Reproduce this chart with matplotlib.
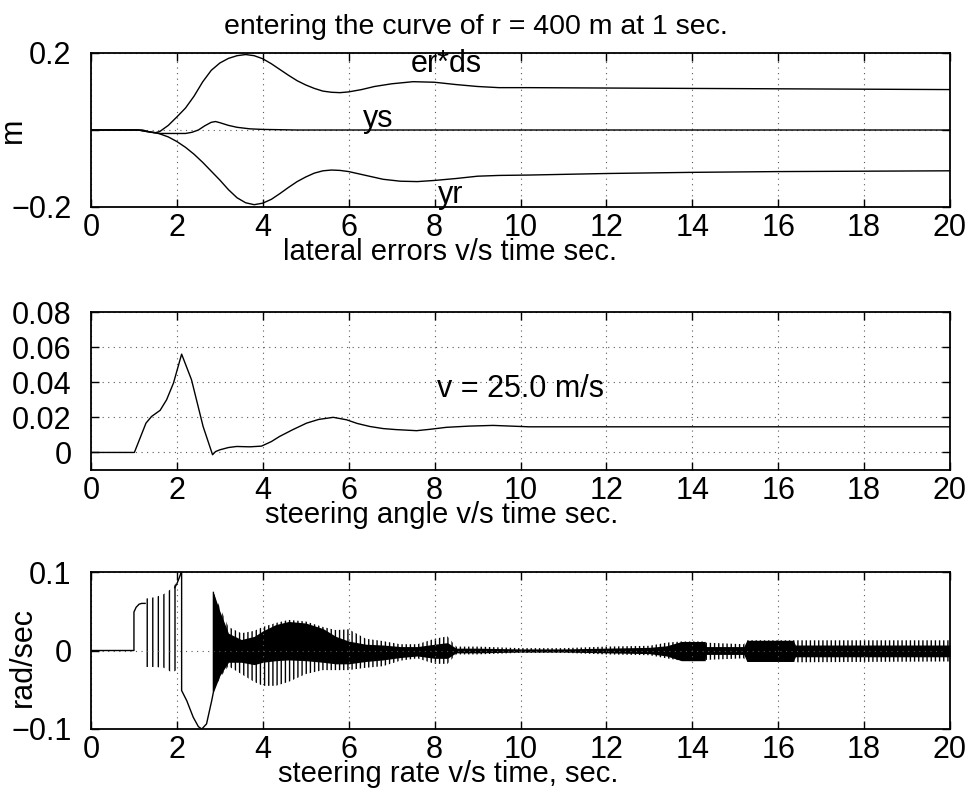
import numpy as np
import matplotlib
matplotlib.use("Agg")
import matplotlib.pyplot as plt

plt.rcParams['font.family'] = ['Liberation Sans', 'DejaVu Sans']
plt.rcParams['axes.unicode_minus'] = True
plt.rcParams['hatch.linewidth'] = 1.0

# ---------------- data ----------------
# Top panel: lateral errors (m)
err_t = [0, 1.1, 1.3, 1.5, 1.6, 1.8, 2.0, 2.2, 2.4, 2.6, 2.8, 3.0, 3.2, 3.4, 3.6, 3.8, 4.0,
         4.2, 4.4, 4.6, 4.8, 5.0, 5.2, 5.4, 5.6, 5.8, 6.0, 6.3, 6.6, 7.0, 7.5, 8.0, 8.5, 9.0,
         9.5, 10.2, 12, 14, 16, 18, 20]
erds = [0, 0, -0.004, -0.007, -0.004, 0.012, 0.034, 0.057, 0.088, 0.125, 0.155, 0.174, 0.186,
        0.193, 0.196, 0.193, 0.185, 0.172, 0.157, 0.142, 0.128, 0.117, 0.108, 0.101, 0.098,
        0.097, 0.099, 0.105, 0.113, 0.12, 0.1255, 0.124, 0.118, 0.113, 0.11, 0.11, 0.109,
        0.108, 0.107, 0.106, 0.105]

yr_t = [0, 1.1, 1.3, 1.5, 1.6, 1.8, 2.0, 2.2, 2.4, 2.6, 2.8, 3.0, 3.2, 3.4, 3.6, 3.8, 4.0,
        4.2, 4.4, 4.6, 4.8, 5.0, 5.2, 5.4, 5.6, 5.8, 6.0, 6.4, 6.8, 7.2, 7.6, 8.0, 8.5, 9.0,
        9.5, 10.2, 12, 14, 16, 18, 20]
yr = [0, 0, -0.004, -0.007, -0.01, -0.018, -0.03, -0.045, -0.063, -0.084, -0.107, -0.13,
      -0.155, -0.176, -0.189, -0.194, -0.19, -0.18, -0.165, -0.149, -0.134, -0.122, -0.112,
      -0.106, -0.104, -0.105, -0.108, -0.118, -0.128, -0.133, -0.134, -0.131, -0.126, -0.12,
      -0.118, -0.117, -0.113, -0.110, -0.108, -0.107, -0.106]

ys_t = [0, 1.2, 1.4, 1.6, 2.0, 2.2, 2.35, 2.5, 2.65, 2.8, 2.9, 3.0, 3.2, 3.4, 3.7, 4.0, 4.8, 20]
ys = [0, 0, -0.006, -0.009, -0.009, -0.009, -0.006, 0.0, 0.011, 0.02, 0.022, 0.019, 0.012,
      0.007, 0.003, 0.0015, 0.0, 0.0]

# Middle panel: steering angle
ang_t = [0, 1.01, 1.28, 1.41, 1.61, 1.76, 1.92, 2.11, 2.34, 2.61, 2.83, 2.9, 3.0, 3.2, 3.39,
         3.7, 3.97, 4.2, 4.39, 4.7, 5.02, 5.3, 5.64, 5.95, 6.2, 6.49, 6.8, 7.11, 7.58, 7.9,
         8.27, 8.8, 9.36, 10.2, 12, 14, 16, 18, 20]
ang = [0, 0, 0.0167, 0.0205, 0.024, 0.030, 0.0395, 0.056, 0.0414, 0.0148, -0.0013, 0.0005,
       0.0015, 0.0028, 0.0034, 0.0032, 0.0036, 0.0062, 0.0091, 0.013, 0.0167, 0.0188, 0.020,
       0.0186, 0.0165, 0.0148, 0.0136, 0.013, 0.0124, 0.0132, 0.0143, 0.015, 0.0154, 0.0146,
       0.0146, 0.0146, 0.0146, 0.0146, 0.0146]

# Bottom panel: steering rate, smooth parts
rate1_t = [0, 1.0, 1.0, 1.05, 1.12, 1.18, 1.26]
rate1 = [0, 0, 0.049, 0.055, 0.059, 0.06, 0.06]
rate2_t = [1.95, 2.0, 2.05, 2.09, 2.11, 2.11, 2.23, 2.38, 2.5, 2.58, 2.69, 2.81, 2.85, 2.85]
rate2 = [0.08, 0.085, 0.092, 0.098, 0.1, -0.051, -0.064, -0.085, -0.097, -0.1, -0.0935, -0.064, -0.053, 0.074]

# Bottom panel: chattering envelopes (spike extent and dense core)
chatA_t = [1.26, 1.5, 1.7, 1.88, 2.0]
chatA_hi = [0.066, 0.068, 0.072, 0.079, 0.087]
chatA_lo = [-0.021, -0.021, -0.022, -0.028, -0.025]

chatB_t = [2.85, 3.0, 3.2, 3.5, 3.8, 4.0, 4.3, 4.6, 5.0, 5.4, 5.7, 6.0, 6.4, 6.8, 7.2, 7.6,
           8.0, 8.3, 8.5, 9.0, 10, 11, 12, 13, 13.4, 13.75, 14.3, 14.31, 15.2, 15.27, 16.35,
           16.4, 20]
chatB_hi = [0.074, 0.055, 0.03, 0.022, 0.025, 0.03, 0.035, 0.039, 0.037, 0.03, 0.026, 0.027,
            0.015, 0.012, 0.008, 0.008, 0.015, 0.018, 0.005, 0.005, 0.003, 0.003, 0.005, 0.006,
            0.01, 0.0115, 0.0115, 0.01, 0.008, 0.013, 0.013, 0.013, 0.013]
chatB_lo = [-0.053, -0.035, -0.02, -0.03, -0.04, -0.045, -0.045, -0.04, -0.03, -0.025, -0.025,
            -0.025, -0.022, -0.02, -0.013, -0.01, -0.017, -0.017, -0.005, -0.005, -0.003, -0.003,
            -0.005, -0.006, -0.01, -0.013, -0.013, -0.012, -0.01, -0.014, -0.014, -0.015, -0.014]
coreB_hi = [0.074, 0.05, 0.022, 0.014, 0.018, 0.025, 0.033, 0.037, 0.035, 0.028, 0.018, 0.012,
            0.008, 0.007, 0.005, 0.005, 0.008, 0.01, 0.003, 0.003, 0.002, 0.002, 0.003, 0.004,
            0.006, 0.0115, 0.0115, 0.005, 0.005, 0.013, 0.013, 0.007, 0.007]
coreB_lo = [-0.053, -0.032, -0.015, -0.015, -0.018, -0.015, -0.013, -0.012, -0.013, -0.015,
            -0.017, -0.017, -0.014, -0.012, -0.009, -0.007, -0.01, -0.01, -0.003, -0.003,
            -0.002, -0.002, -0.003, -0.004, -0.007, -0.013, -0.013, -0.005, -0.005, -0.014,
            -0.014, -0.008, -0.008]

xticks = list(range(0, 21, 2))

# ---------------- figure ----------------
fig = plt.figure(figsize=(9.74, 7.92), dpi=100)
L, W = 91 / 974, 859 / 974
ax1 = fig.add_axes([L, 1 - 207 / 792, W, 154 / 792])
ax2 = fig.add_axes([L, 1 - 470 / 792, W, 158 / 792])
ax3 = fig.add_axes([L, 1 - 729 / 792, W, 157 / 792])

FS = 22
FL = 21
FT = 20.5
grid_kw = dict(color='0.35', linestyle=(0, (1, 4)), linewidth=0.8)


def style(ax, yt, ylabels, ylim):
    ax.set_xlim(0, 20)
    ax.set_ylim(*ylim)
    ax.set_xticks(xticks)
    ax.set_xticklabels([str(v) for v in xticks], fontsize=FS)
    ax.set_yticks(yt)
    ax.set_yticklabels(ylabels, fontsize=FS)
    ax.tick_params(direction='in', length=6, width=1, top=True, right=True)
    ax.tick_params(axis='x', pad=4)
    ax.tick_params(axis='y', pad=14)
    for s in ax.spines.values():
        s.set_linewidth(1.3)
    ax.grid(True, **grid_kw)


style(ax1, [-0.2, 0, 0.2], ['\u22120.2', '', '0.2'], (-0.2, 0.2))
ax1.plot(err_t, erds, color='k', lw=1.0)
ax1.plot(yr_t, yr, color='k', lw=1.0)
ax1.plot(ys_t, ys, color='k', lw=1.0)
ax1.text(7.45, 0.151, 'er*ds', fontsize=FS, va='baseline')
ax1.text(6.33, 0.008, 'ys', fontsize=FS, va='baseline')
ax1.text(8.08, -0.19, 'yr', fontsize=FS, va='baseline')
ax1.set_title('entering the curve of r = 400 m at 1 sec.', fontsize=FT, x=0.448, pad=14)
ax1.set_xlabel('lateral errors v/s time sec.', fontsize=FL)
ax1.xaxis.set_label_coords(0.418, -0.2)
ax1.set_ylabel('m', fontsize=FS)
ax1.yaxis.set_label_coords(-0.073, 0.5)

style(ax2, [0, 0.02, 0.04, 0.06, 0.08], ['0', '0.02', '0.04', '0.06', '0.08'], (-0.01, 0.08))
ax2.plot(ang_t, ang, color='k', lw=1.0)
ax2.text(8.06, 0.0316, 'v = 25.0 m/s', fontsize=FS, va='baseline')
ax2.set_xlabel('steering angle v/s time sec.', fontsize=FL)
ax2.xaxis.set_label_coords(0.408, -0.195)

style(ax3, [-0.1, 0, 0.1], ['\u22120.1', '0', '0.1'], (-0.1, 0.1))
ax3.fill_between(chatA_t, chatA_lo, chatA_hi, facecolor='none', edgecolor='k',
                 hatch='|||', lw=0)
ax3.fill_between(chatB_t, chatB_lo, chatB_hi, facecolor='none', edgecolor='k',
                 hatch='||||', lw=0)
ax3.fill_between(chatB_t, coreB_lo, coreB_hi, color='k', lw=0)
ax3.plot(rate1_t, rate1, color='k', lw=1.0)
ax3.plot(rate2_t, rate2, color='k', lw=1.0)
ax3.set_xlabel('steering rate v/s time, sec.', fontsize=FL)
ax3.xaxis.set_label_coords(0.416, -0.197)
ax3.set_ylabel('rad/sec', fontsize=FS)
ax3.yaxis.set_label_coords(-0.062, 0.46)

fig.savefig('out.png', dpi=100)
